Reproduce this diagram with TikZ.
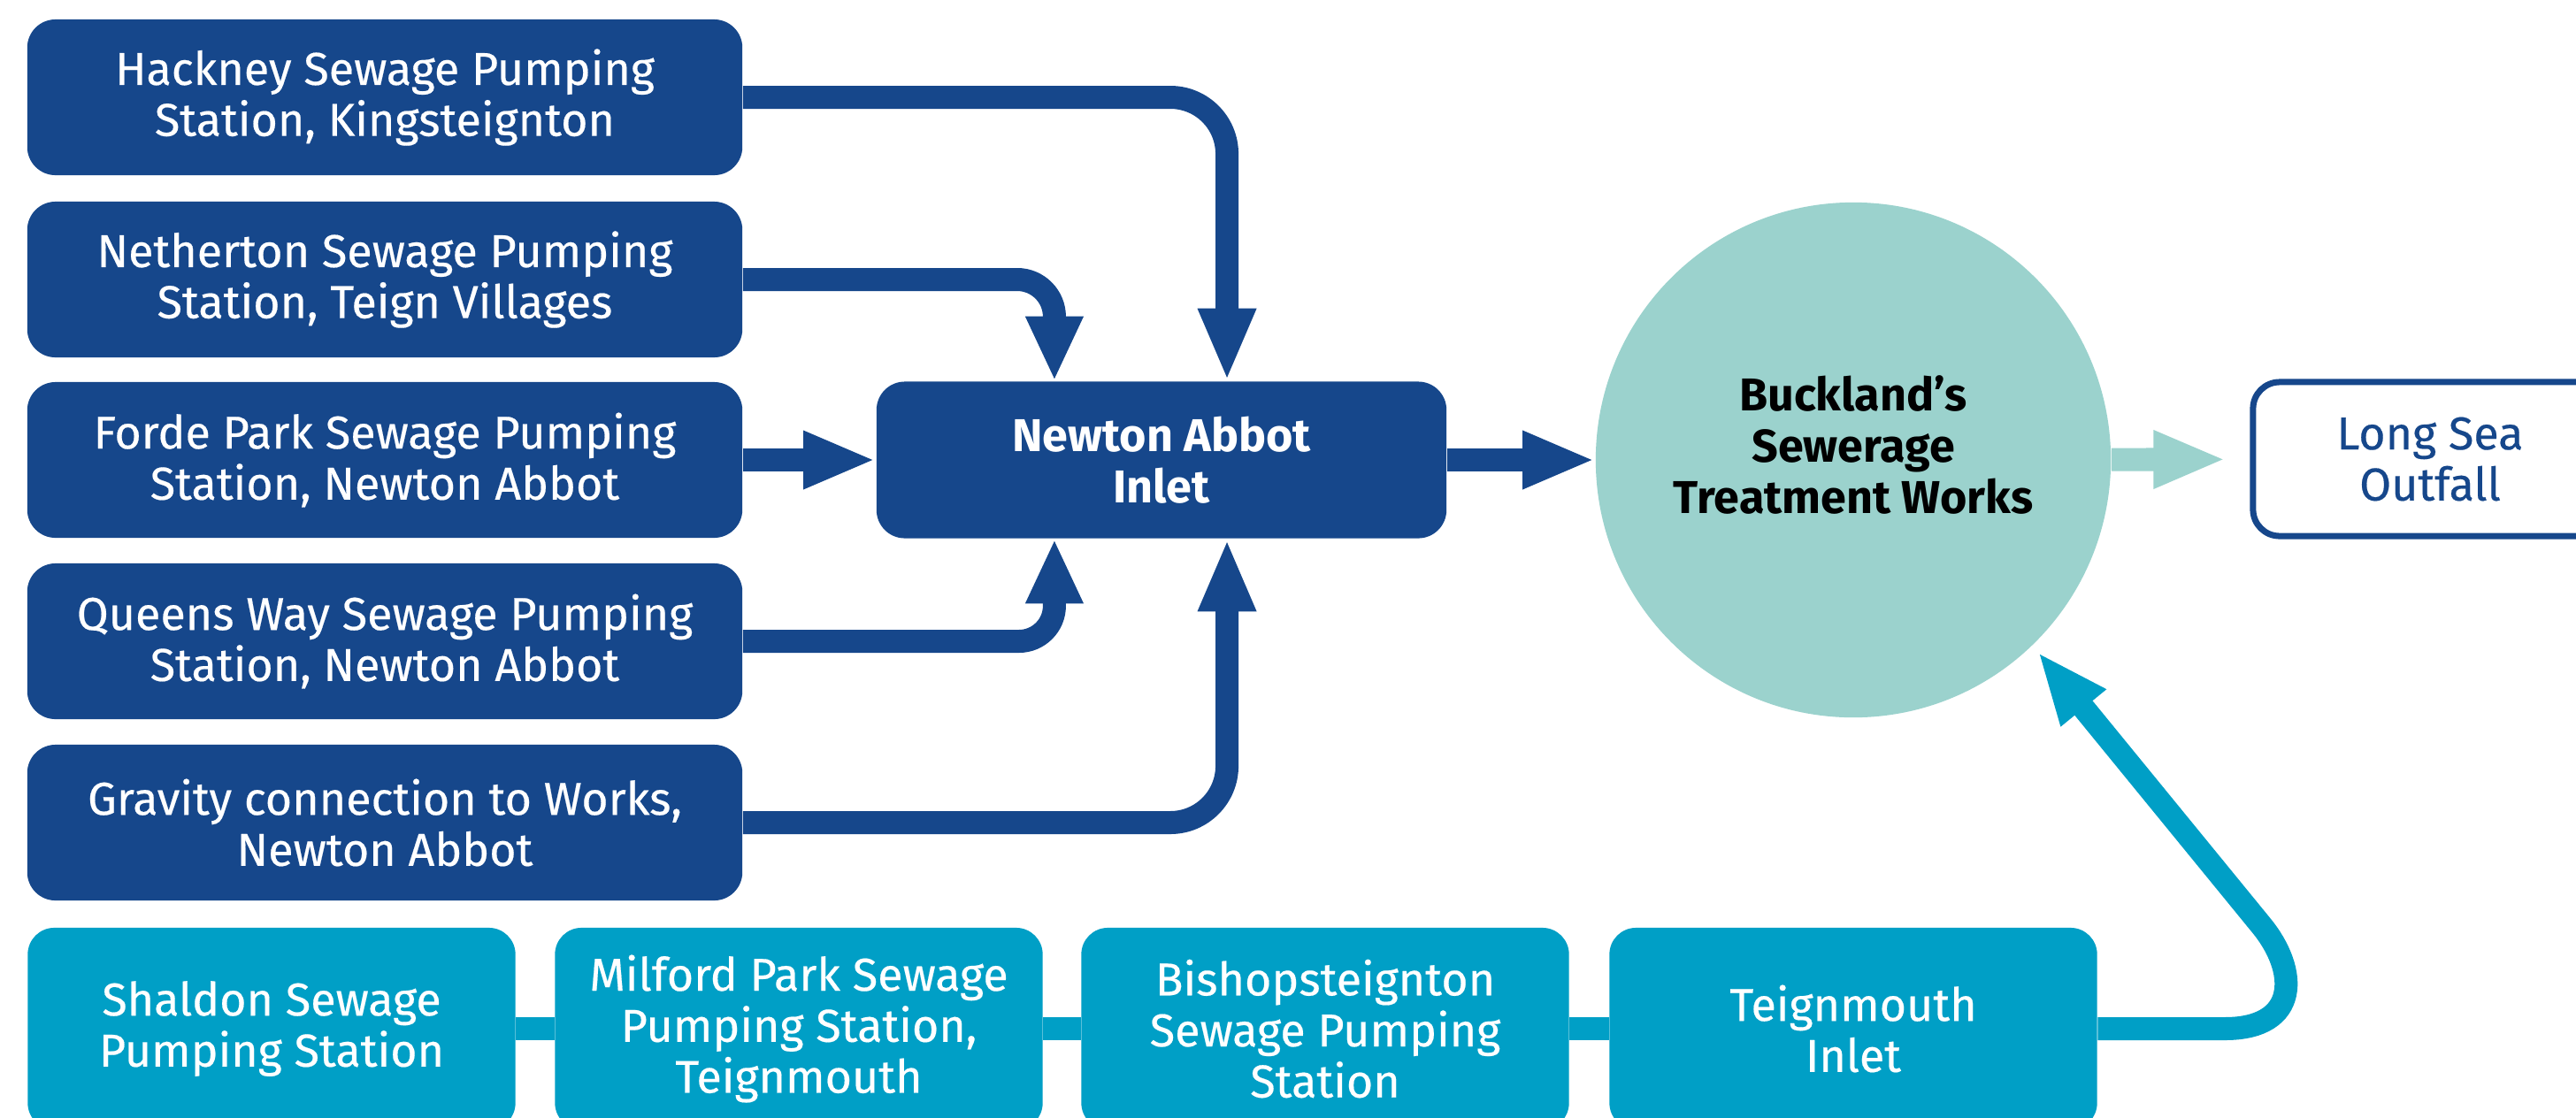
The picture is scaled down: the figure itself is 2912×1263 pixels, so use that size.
\documentclass[tikz,border=0pt]{standalone}
\usepackage{fontspec}
\setmainfont{Fira Sans}
\newfontfamily\medfont{Fira Sans}[FakeBold=0.35]
\usetikzlibrary{arrows.meta}
\definecolor{navy}{HTML}{16478B}
\definecolor{tealc}{HTML}{009FC6}
\definecolor{mint}{HTML}{9BD2CD}
\begin{document}
\begin{tikzpicture}[x=0.01cm,y=-0.01cm,
  txt/.style={font=\fontsize{14.8pt}{16.4pt}\selectfont\medfont},
  txtb/.style={font=\fontsize{14.8pt}{16.4pt}\selectfont\bfseries},
  srcbox/.style={txt, fill=navy, text=white, rounded corners=0.32cm, minimum width=8.08cm, minimum height=1.76cm, align=center, inner sep=0pt},
  tealbox/.style={txt, fill=tealc, text=white, rounded corners=0.3cm, minimum width=5.51cm, minimum height=2.28cm, align=center, inner sep=0pt},
  darkline/.style={draw=navy, line width=0.26cm},
  tealline/.style={draw=tealc, line width=0.26cm},
  mintline/.style={draw=mint, line width=0.26cm},
  bigtip/.style={-{Triangle[length=0.82cm,width=0.6cm]}},
  smalltip/.style={-{Triangle[length=0.73cm,width=0.6cm]}}
]
\clip (0,0) rectangle (2912,1263);
\fill[white] (0,0) rectangle (2912,1263);

% source boxes
\node[srcbox] (hack) at (435,110) {Hackney Sewage Pumping\\Station, Kingsteignton};
\node[srcbox] (neth) at (435,316) {Netherton Sewage Pumping\\Station, Teign Villages};
\node[srcbox] (forde) at (435,520) {Forde Park Sewage Pumping\\Station, Newton Abbot};
\node[srcbox] (queen) at (435,725) {Queens Way Sewage Pumping\\Station, Newton Abbot};
\node[srcbox] (grav) at (435,930) {Gravity connection to Works,\\Newton Abbot};

% inlet
\node[srcbox, txtb, minimum width=6.44cm, minimum height=1.77cm] (inlet) at (1313,520) {Newton Abbot\\Inlet};

% treatment works
\node[circle, fill=mint, minimum size=5.82cm, inner sep=0pt,
  label={[txtb, text=black, align=center, yshift=0.17cm]center:{Buckland’s\\Sewerage\\Treatment Works}}] (stw) at (2095,520) {};

% outfall
\node[txt, draw=navy, line width=0.07cm, rounded corners=0.3cm, minimum width=4.0cm, minimum height=1.74cm, text=navy, align=center, inner sep=0pt] (out) at (2747,519) {Long Sea\\Outfall};

% teal row
\node[tealbox] (shal) at (307,1163) {Shaldon Sewage\\Pumping Station};
\node[tealbox] (milf) at (903,1163) {Milford Park Sewage\\Pumping Station,\\Teignmouth};
\node[tealbox] (bish) at (1498,1163) {Bishopsteignton\\Sewage Pumping\\Station};
\node[tealbox] (teign) at (2095,1163) {Teignmouth\\Inlet};

% connectors into inlet
\draw[darkline, bigtip, rounded corners=0.64cm] (hack.east) -| ([xshift=0.74cm]inlet.north);
\draw[darkline, smalltip, rounded corners=0.42cm] (neth.east) -| ([xshift=-1.21cm]inlet.north);
\draw[darkline, bigtip] (forde.east) -- (inlet.west);
\draw[darkline, smalltip, rounded corners=0.4cm] (queen.east) -| ([xshift=-1.21cm]inlet.south);
\draw[darkline, bigtip, rounded corners=0.64cm] (grav.east) -| ([xshift=0.74cm]inlet.south);

% inlet to works, works to outfall
\draw[darkline, bigtip] (inlet) -- (stw);
\draw[mintline, bigtip, shorten >=0.27cm] (stw) -- (out);

% teal chain
\draw[tealline] (shal) -- (milf);
\draw[tealline] (milf) -- (bish);
\draw[tealline] (bish) -- (teign);
\coordinate (tb) at (2515,1163);
\coordinate (tj) at (2556,1046);
\draw[tealline, bigtip, shorten >=0.09cm] (teign.east) -- (tb) .. controls (2600,1163) and (2598,1097) .. (tj) -- (stw.-46);
\end{tikzpicture}
\end{document}
